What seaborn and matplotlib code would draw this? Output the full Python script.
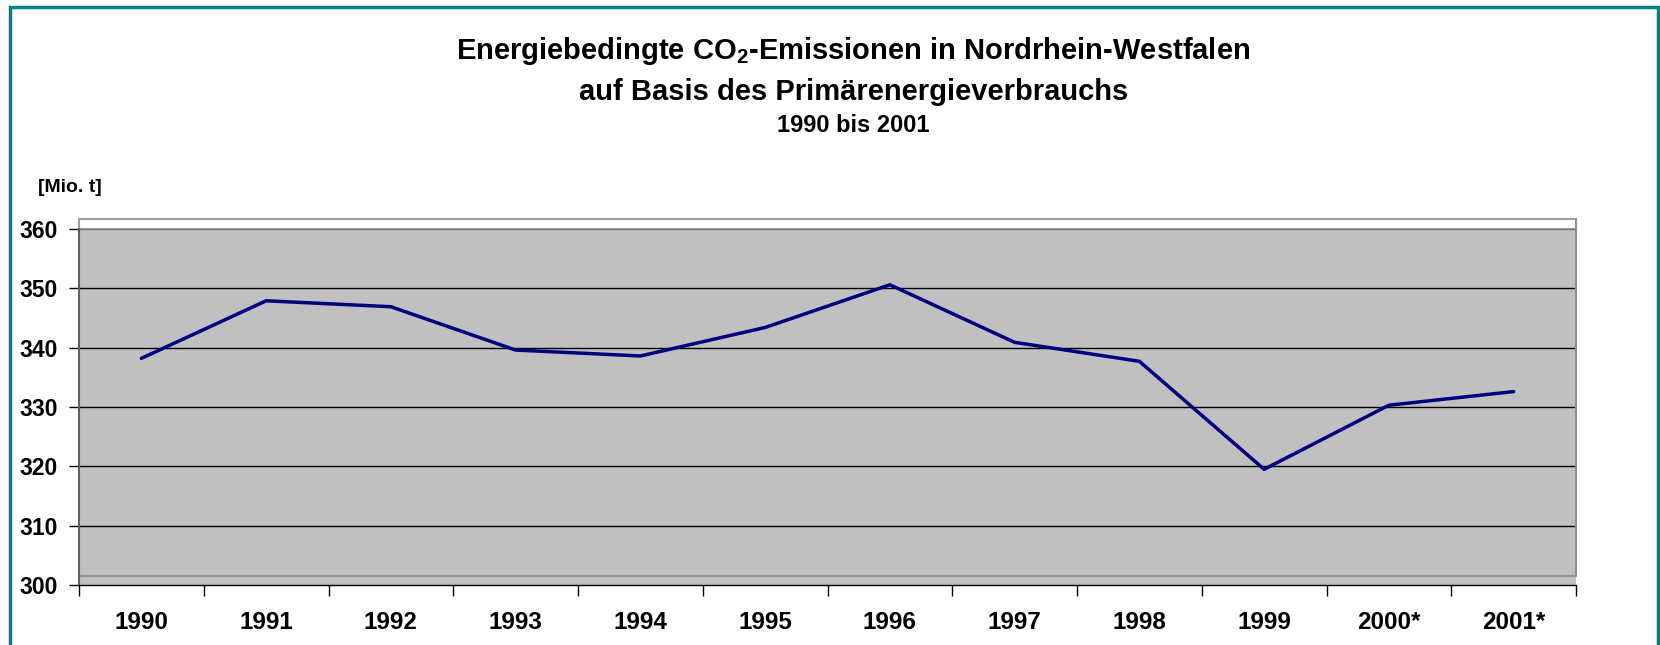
import matplotlib
matplotlib.use("Agg")
import matplotlib.pyplot as plt
from matplotlib.patches import Rectangle
from matplotlib.ticker import FixedLocator
import seaborn as sns
import pandas as pd

# data
years = ["1990", "1991", "1992", "1993", "1994", "1995",
         "1996", "1997", "1998", "1999", "2000*", "2001*"]
emissions = [338.2, 347.9, 346.9, 339.6, 338.6, 343.4,
             350.6, 340.9, 337.7, 319.5, 330.3, 332.6]
y_ticks = [300, 310, 320, 330, 340, 350, 360]

df = pd.DataFrame({"Jahr": years, "CO2": emissions})

sns.set_theme(style="white")
plt.rcParams["font.family"] = ["Liberation Sans", "DejaVu Sans"]
plt.rcParams["font.weight"] = "bold"
plt.rcParams["text.color"] = "black"
plt.rcParams["xtick.color"] = "black"
plt.rcParams["ytick.color"] = "black"
plt.rcParams["mathtext.fontset"] = "custom"
plt.rcParams["mathtext.rm"] = "Liberation Sans:bold"
plt.rcParams["mathtext.bf"] = "Liberation Sans:bold"

fig = plt.figure(figsize=(16.6, 6.45), dpi=100)
ax = fig.add_axes([79 / 1660, 60 / 645, 1497 / 1660, 356 / 645])
ax.set_facecolor("#C0C0C0")

sns.lineplot(data=df, x="Jahr", y="CO2", sort=False, color="#000080",
             linewidth=2.5, ax=ax, zorder=5)

ax.set_xlim(-0.5, len(years) - 0.5)
ax.set_ylim(300, 360)
ax.set_yticks(y_ticks)
ax.set_yticklabels([str(v) for v in y_ticks], fontsize=16.5, fontweight="bold")
ax.set_xticks(range(len(years)))
ax.set_xticklabels(years, fontsize=17.5, fontweight="bold")
ax.xaxis.set_minor_locator(FixedLocator([i - 0.5 for i in range(len(years) + 1)]))
ax.tick_params(axis="x", which="major", length=0, pad=19)
ax.tick_params(axis="x", which="minor", length=8, width=1, color="black",
               direction="out", bottom=True)
ax.tick_params(axis="y", length=7, width=1, color="black", direction="out",
               left=True, pad=8)
ax.set_xlabel("")
ax.set_ylabel("")

# horizontal gridlines
for v in y_ticks[1:-1]:
    ax.axhline(v, color="black", linewidth=1, zorder=1)
ax.axhline(360, color="#707070", linewidth=1.5, zorder=1)
ax.axhline(301.5, color="#909090", linewidth=1.5, zorder=1)

for side in ["top", "right"]:
    ax.spines[side].set_visible(False)
ax.spines["left"].set_color("#606060")
ax.spines["left"].set_linewidth(1.5)
ax.spines["bottom"].set_color("black")
ax.spines["bottom"].set_linewidth(1)

# 3D wall top strip and frame (Excel look)
ax.add_patch(Rectangle((0, 1.0), 1.0, 10 / 356, transform=ax.transAxes,
                       facecolor="white", edgecolor="#A0A0A0", linewidth=1.5,
                       clip_on=False, zorder=0))
ax.plot([1.0, 1.0], [9 / 356, 1.028], transform=ax.transAxes,
        color="#909090", linewidth=1.5, clip_on=False)

# titles
fig.text(0.514, 1 - 51 / 645,
         r"Energiebedingte CO$_\mathbf{2}$-Emissionen in Nordrhein-Westfalen",
         ha="center", va="center", fontsize=21, fontweight="bold")
fig.text(0.514, 1 - 92 / 645, "auf Basis des Primärenergieverbrauchs",
         ha="center", va="center", fontsize=21, fontweight="bold")
fig.text(0.514, 1 - 126 / 645, "1990 bis 2001",
         ha="center", va="center", fontsize=17, fontweight="bold")
fig.text(38 / 1660, 1 - 188 / 645, "[Mio. t]",
         ha="left", va="center", fontsize=14, fontweight="bold")

# teal frame around the chart
fig.patches.append(Rectangle((10 / 1660, -0.05), 1648 / 1660, 1.05 - 7 / 645,
                             transform=fig.transFigure, fill=False,
                             edgecolor="#008080", linewidth=2.5))

fig.savefig("out.png", dpi=100)
